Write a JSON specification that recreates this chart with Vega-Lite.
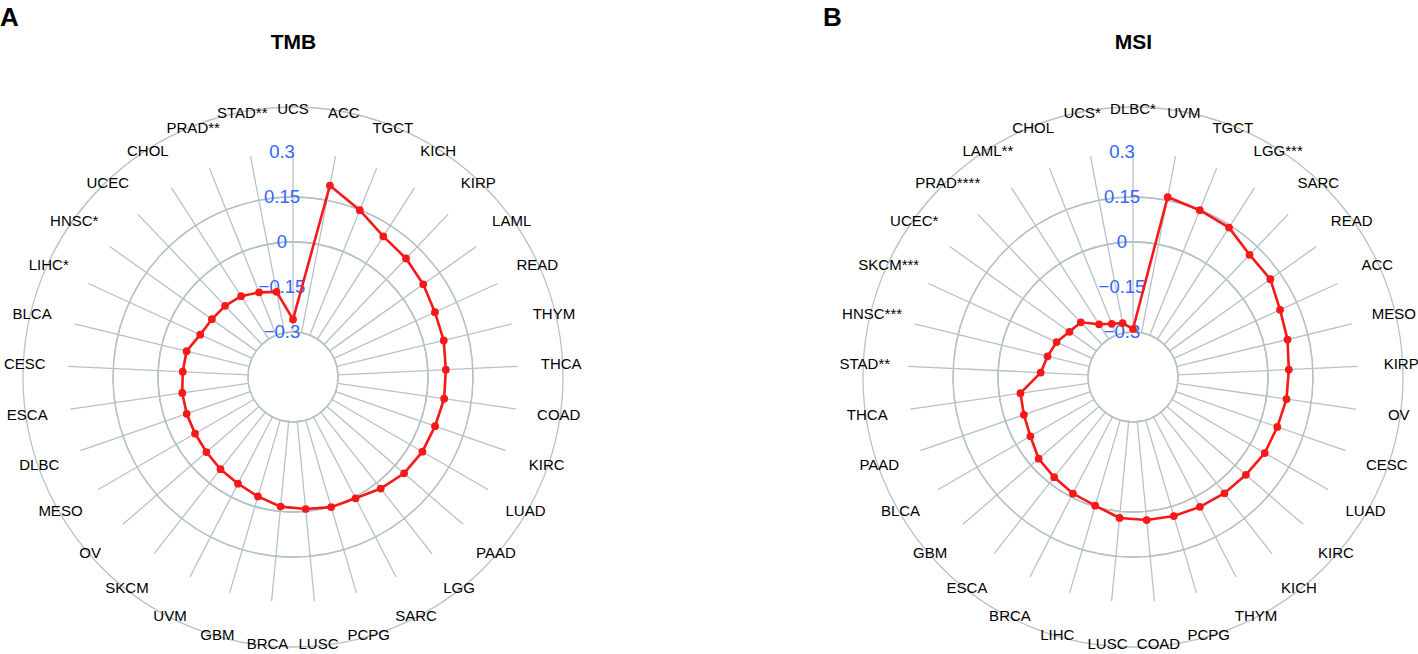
{
  "$schema": "https://vega.github.io/schema/vega-lite/v6.json",
  "padding": {"left": 0, "top": 5, "right": 0, "bottom": 0},
  "background": "white",
  "config": {"view": {"stroke": null}, "font": "Liberation Sans"},
  "datasets": {
    "tmb": [
      {"cancer": "UCS", "value": -0.258},
      {"cancer": "ACC", "value": 0.2},
      {"cancer": "TGCT", "value": 0.149},
      {"cancer": "KICH", "value": 0.107},
      {"cancer": "KIRP", "value": 0.096},
      {"cancer": "LAML", "value": 0.083},
      {"cancer": "READ", "value": 0.07},
      {"cancer": "THYM", "value": 0.067},
      {"cancer": "THCA", "value": 0.06},
      {"cancer": "COAD", "value": 0.059},
      {"cancer": "KIRC", "value": 0.051},
      {"cancer": "LUAD", "value": 0.048},
      {"cancer": "PAAD", "value": 0.04},
      {"cancer": "LGG", "value": 0.023},
      {"cancer": "SARC", "value": 0.005},
      {"cancer": "PCPG", "value": 0.002},
      {"cancer": "LUSC", "value": -0.008},
      {"cancer": "BRCA", "value": -0.016},
      {"cancer": "GBM", "value": -0.035},
      {"cancer": "UVM", "value": -0.05},
      {"cancer": "SKCM", "value": -0.059},
      {"cancer": "OV", "value": -0.068},
      {"cancer": "MESO", "value": -0.073},
      {"cancer": "DLBC", "value": -0.075},
      {"cancer": "ESCA", "value": -0.077},
      {"cancer": "CESC", "value": -0.082},
      {"cancer": "BLCA", "value": -0.085},
      {"cancer": "LIHC*", "value": -0.11},
      {"cancer": "HNSC*", "value": -0.118},
      {"cancer": "UCEC", "value": -0.122},
      {"cancer": "CHOL", "value": -0.13},
      {"cancer": "PRAD**", "value": -0.146},
      {"cancer": "STAD**", "value": -0.161}
    ],
    "msi": [
      {"cancer": "DLBC*", "value": -0.29},
      {"cancer": "UVM", "value": 0.161},
      {"cancer": "TGCT", "value": 0.149},
      {"cancer": "LGG***", "value": 0.142},
      {"cancer": "SARC", "value": 0.113},
      {"cancer": "READ", "value": 0.112},
      {"cancer": "ACC", "value": 0.089},
      {"cancer": "MESO", "value": 0.08},
      {"cancer": "KIRP", "value": 0.07},
      {"cancer": "OV", "value": 0.067},
      {"cancer": "CESC", "value": 0.059},
      {"cancer": "LUAD", "value": 0.057},
      {"cancer": "KIRC", "value": 0.048},
      {"cancer": "KICH", "value": 0.043},
      {"cancer": "THYM", "value": 0.037},
      {"cancer": "PCPG", "value": 0.033},
      {"cancer": "COAD", "value": 0.029},
      {"cancer": "LUSC", "value": 0.022},
      {"cancer": "LIHC", "value": -0.003},
      {"cancer": "BRCA", "value": -0.013},
      {"cancer": "ESCA", "value": -0.025},
      {"cancer": "GBM", "value": -0.034},
      {"cancer": "BLCA", "value": -0.055},
      {"cancer": "PAAD", "value": -0.065},
      {"cancer": "THCA", "value": -0.071},
      {"cancer": "STAD**", "value": -0.142},
      {"cancer": "HNSC***", "value": -0.157},
      {"cancer": "SKCM***", "value": -0.17},
      {"cancer": "UCEC*", "value": -0.19},
      {"cancer": "PRAD****", "value": -0.198},
      {"cancer": "LAML**", "value": -0.241},
      {"cancer": "CHOL", "value": -0.259},
      {"cancer": "UCS*", "value": -0.267}
    ],
    "ticks": [
      {"tick": -0.3},
      {"tick": -0.15},
      {"tick": 0},
      {"tick": 0.15},
      {"tick": 0.3}
    ]
  },
  "spacing": 254,
  "bounds": "flush",
  "hconcat": [
    {
      "title": {"text": "A", "anchor": "start", "frame": "group", "fontSize": 26, "fontWeight": "bold", "color": "black", "offset": 0},
      "width": 586,
      "height": 586,
      "data": {"name": "tmb"},
      "transform": [
        {"window": [{"op": "row_number", "as": "rn"}]},
        {"joinaggregate": [{"op": "count", "as": "n"}]},
        {"calculate": "2*PI*(datum.rn-1)/datum.n", "as": "ang"},
        {"calculate": "(datum.value+0.45)*sin(datum.ang)", "as": "px"},
        {"calculate": "(datum.value+0.45)*cos(datum.ang)", "as": "py"},
        {"calculate": "0.15*sin(datum.ang)", "as": "sx1"},
        {"calculate": "0.15*cos(datum.ang)", "as": "sy1"},
        {"calculate": "0.75*sin(datum.ang)", "as": "sx2"},
        {"calculate": "0.75*cos(datum.ang)", "as": "sy2"},
        {"calculate": "0.895*sin(datum.ang)", "as": "lx"},
        {"calculate": "0.895*cos(datum.ang)", "as": "ly"}
      ],
      "layer": [
        {
          "data": {"name": "ticks"},
          "mark": {"type": "arc", "filled": false, "stroke": "#B6C2C5", "strokeWidth": 1.3, "theta": 0, "theta2": 6.2832},
          "encoding": {
            "radius": {"field": "tick", "type": "quantitative", "scale": {"type": "linear", "domain": [-0.45, 0.3], "range": [0, 225], "zero": false, "nice": false}}
          }
        },
        {
          "mark": {"type": "rule", "stroke": "#B6C2C5", "strokeWidth": 1.3},
          "encoding": {
            "x": {"field": "sx1", "type": "quantitative", "scale": {"domain": [-0.97667, 0.97667], "nice": false, "zero": false},
              "axis": {"orient": "top", "title": "TMB", "labels": false, "ticks": false, "domain": false, "grid": false, "titleFontSize": 21, "titleFontWeight": "bold", "titleColor": "black", "titleBaseline": "alphabetic", "titlePadding": 36}},
            "y": {"field": "sy1", "type": "quantitative", "scale": {"domain": [-0.97667, 0.97667], "nice": false, "zero": false}, "axis": null},
            "x2": {"field": "sx2"},
            "y2": {"field": "sy2"}
          }
        },
        {
          "data": {"name": "ticks"},
          "transform": [{"calculate": "datum.tick+0.45", "as": "tr"}],
          "mark": {"type": "text", "dx": -11, "align": "center", "baseline": "middle", "fontSize": 18.5, "color": "#3366FF"},
          "encoding": {
            "x": {"datum": 0, "type": "quantitative", "scale": {"domain": [-0.97667, 0.97667], "nice": false, "zero": false},
              "axis": {"orient": "top", "title": "TMB", "labels": false, "ticks": false, "domain": false, "grid": false, "titleFontSize": 21, "titleFontWeight": "bold", "titleColor": "black", "titleBaseline": "alphabetic", "titlePadding": 36}},
            "y": {"field": "tr", "type": "quantitative", "scale": {"domain": [-0.97667, 0.97667], "nice": false, "zero": false}, "axis": null},
            "text": {"field": "tick", "type": "quantitative", "format": "~g"}
          }
        },
        {
          "mark": {"type": "line", "interpolate": "linear-closed", "color": "#F71818", "strokeWidth": 2.6},
          "encoding": {
            "x": {"field": "px", "type": "quantitative", "scale": {"domain": [-0.97667, 0.97667], "nice": false, "zero": false},
              "axis": {"orient": "top", "title": "TMB", "labels": false, "ticks": false, "domain": false, "grid": false, "titleFontSize": 21, "titleFontWeight": "bold", "titleColor": "black", "titleBaseline": "alphabetic", "titlePadding": 36}},
            "y": {"field": "py", "type": "quantitative", "scale": {"domain": [-0.97667, 0.97667], "nice": false, "zero": false}, "axis": null},
            "order": {"field": "rn", "type": "quantitative"}
          }
        },
        {
          "mark": {"type": "circle", "color": "#F71818", "size": 60, "opacity": 1},
          "encoding": {
            "x": {"field": "px", "type": "quantitative", "scale": {"domain": [-0.97667, 0.97667], "nice": false, "zero": false},
              "axis": {"orient": "top", "title": "TMB", "labels": false, "ticks": false, "domain": false, "grid": false, "titleFontSize": 21, "titleFontWeight": "bold", "titleColor": "black", "titleBaseline": "alphabetic", "titlePadding": 36}},
            "y": {"field": "py", "type": "quantitative", "scale": {"domain": [-0.97667, 0.97667], "nice": false, "zero": false}, "axis": null}
          }
        },
        {
          "mark": {"type": "text", "align": "center", "baseline": "middle", "fontSize": 15, "color": "black"},
          "encoding": {
            "x": {"field": "lx", "type": "quantitative", "scale": {"domain": [-0.97667, 0.97667], "nice": false, "zero": false},
              "axis": {"orient": "top", "title": "TMB", "labels": false, "ticks": false, "domain": false, "grid": false, "titleFontSize": 21, "titleFontWeight": "bold", "titleColor": "black", "titleBaseline": "alphabetic", "titlePadding": 36}},
            "y": {"field": "ly", "type": "quantitative", "scale": {"domain": [-0.97667, 0.97667], "nice": false, "zero": false}, "axis": null},
            "text": {"field": "cancer", "type": "nominal"}
          }
        }
      ]
    },
    {
      "title": {"text": "B", "anchor": "start", "frame": "group", "fontSize": 26, "fontWeight": "bold", "color": "black", "offset": 0, "dx": -17},
      "width": 586,
      "height": 586,
      "data": {"name": "msi"},
      "transform": [
        {"window": [{"op": "row_number", "as": "rn"}]},
        {"joinaggregate": [{"op": "count", "as": "n"}]},
        {"calculate": "2*PI*(datum.rn-1)/datum.n", "as": "ang"},
        {"calculate": "(datum.value+0.45)*sin(datum.ang)", "as": "px"},
        {"calculate": "(datum.value+0.45)*cos(datum.ang)", "as": "py"},
        {"calculate": "0.15*sin(datum.ang)", "as": "sx1"},
        {"calculate": "0.15*cos(datum.ang)", "as": "sy1"},
        {"calculate": "0.75*sin(datum.ang)", "as": "sx2"},
        {"calculate": "0.75*cos(datum.ang)", "as": "sy2"},
        {"calculate": "0.895*sin(datum.ang)", "as": "lx"},
        {"calculate": "0.895*cos(datum.ang)", "as": "ly"}
      ],
      "layer": [
        {
          "data": {"name": "ticks"},
          "mark": {"type": "arc", "filled": false, "stroke": "#B6C2C5", "strokeWidth": 1.3, "theta": 0, "theta2": 6.2832},
          "encoding": {
            "radius": {"field": "tick", "type": "quantitative", "scale": {"type": "linear", "domain": [-0.45, 0.3], "range": [0, 225], "zero": false, "nice": false}}
          }
        },
        {
          "mark": {"type": "rule", "stroke": "#B6C2C5", "strokeWidth": 1.3},
          "encoding": {
            "x": {"field": "sx1", "type": "quantitative", "scale": {"domain": [-0.97667, 0.97667], "nice": false, "zero": false},
              "axis": {"orient": "top", "title": "MSI", "labels": false, "ticks": false, "domain": false, "grid": false, "titleFontSize": 21, "titleFontWeight": "bold", "titleColor": "black", "titleBaseline": "alphabetic", "titlePadding": 36}},
            "y": {"field": "sy1", "type": "quantitative", "scale": {"domain": [-0.97667, 0.97667], "nice": false, "zero": false}, "axis": null},
            "x2": {"field": "sx2"},
            "y2": {"field": "sy2"}
          }
        },
        {
          "data": {"name": "ticks"},
          "transform": [{"calculate": "datum.tick+0.45", "as": "tr"}],
          "mark": {"type": "text", "dx": -11, "align": "center", "baseline": "middle", "fontSize": 18.5, "color": "#3366FF"},
          "encoding": {
            "x": {"datum": 0, "type": "quantitative", "scale": {"domain": [-0.97667, 0.97667], "nice": false, "zero": false},
              "axis": {"orient": "top", "title": "MSI", "labels": false, "ticks": false, "domain": false, "grid": false, "titleFontSize": 21, "titleFontWeight": "bold", "titleColor": "black", "titleBaseline": "alphabetic", "titlePadding": 36}},
            "y": {"field": "tr", "type": "quantitative", "scale": {"domain": [-0.97667, 0.97667], "nice": false, "zero": false}, "axis": null},
            "text": {"field": "tick", "type": "quantitative", "format": "~g"}
          }
        },
        {
          "mark": {"type": "line", "interpolate": "linear-closed", "color": "#F71818", "strokeWidth": 2.6},
          "encoding": {
            "x": {"field": "px", "type": "quantitative", "scale": {"domain": [-0.97667, 0.97667], "nice": false, "zero": false},
              "axis": {"orient": "top", "title": "MSI", "labels": false, "ticks": false, "domain": false, "grid": false, "titleFontSize": 21, "titleFontWeight": "bold", "titleColor": "black", "titleBaseline": "alphabetic", "titlePadding": 36}},
            "y": {"field": "py", "type": "quantitative", "scale": {"domain": [-0.97667, 0.97667], "nice": false, "zero": false}, "axis": null},
            "order": {"field": "rn", "type": "quantitative"}
          }
        },
        {
          "mark": {"type": "circle", "color": "#F71818", "size": 60, "opacity": 1},
          "encoding": {
            "x": {"field": "px", "type": "quantitative", "scale": {"domain": [-0.97667, 0.97667], "nice": false, "zero": false},
              "axis": {"orient": "top", "title": "MSI", "labels": false, "ticks": false, "domain": false, "grid": false, "titleFontSize": 21, "titleFontWeight": "bold", "titleColor": "black", "titleBaseline": "alphabetic", "titlePadding": 36}},
            "y": {"field": "py", "type": "quantitative", "scale": {"domain": [-0.97667, 0.97667], "nice": false, "zero": false}, "axis": null}
          }
        },
        {
          "mark": {"type": "text", "align": "center", "baseline": "middle", "fontSize": 15, "color": "black"},
          "encoding": {
            "x": {"field": "lx", "type": "quantitative", "scale": {"domain": [-0.97667, 0.97667], "nice": false, "zero": false},
              "axis": {"orient": "top", "title": "MSI", "labels": false, "ticks": false, "domain": false, "grid": false, "titleFontSize": 21, "titleFontWeight": "bold", "titleColor": "black", "titleBaseline": "alphabetic", "titlePadding": 36}},
            "y": {"field": "ly", "type": "quantitative", "scale": {"domain": [-0.97667, 0.97667], "nice": false, "zero": false}, "axis": null},
            "text": {"field": "cancer", "type": "nominal"}
          }
        }
      ]
    }
  ]
}
